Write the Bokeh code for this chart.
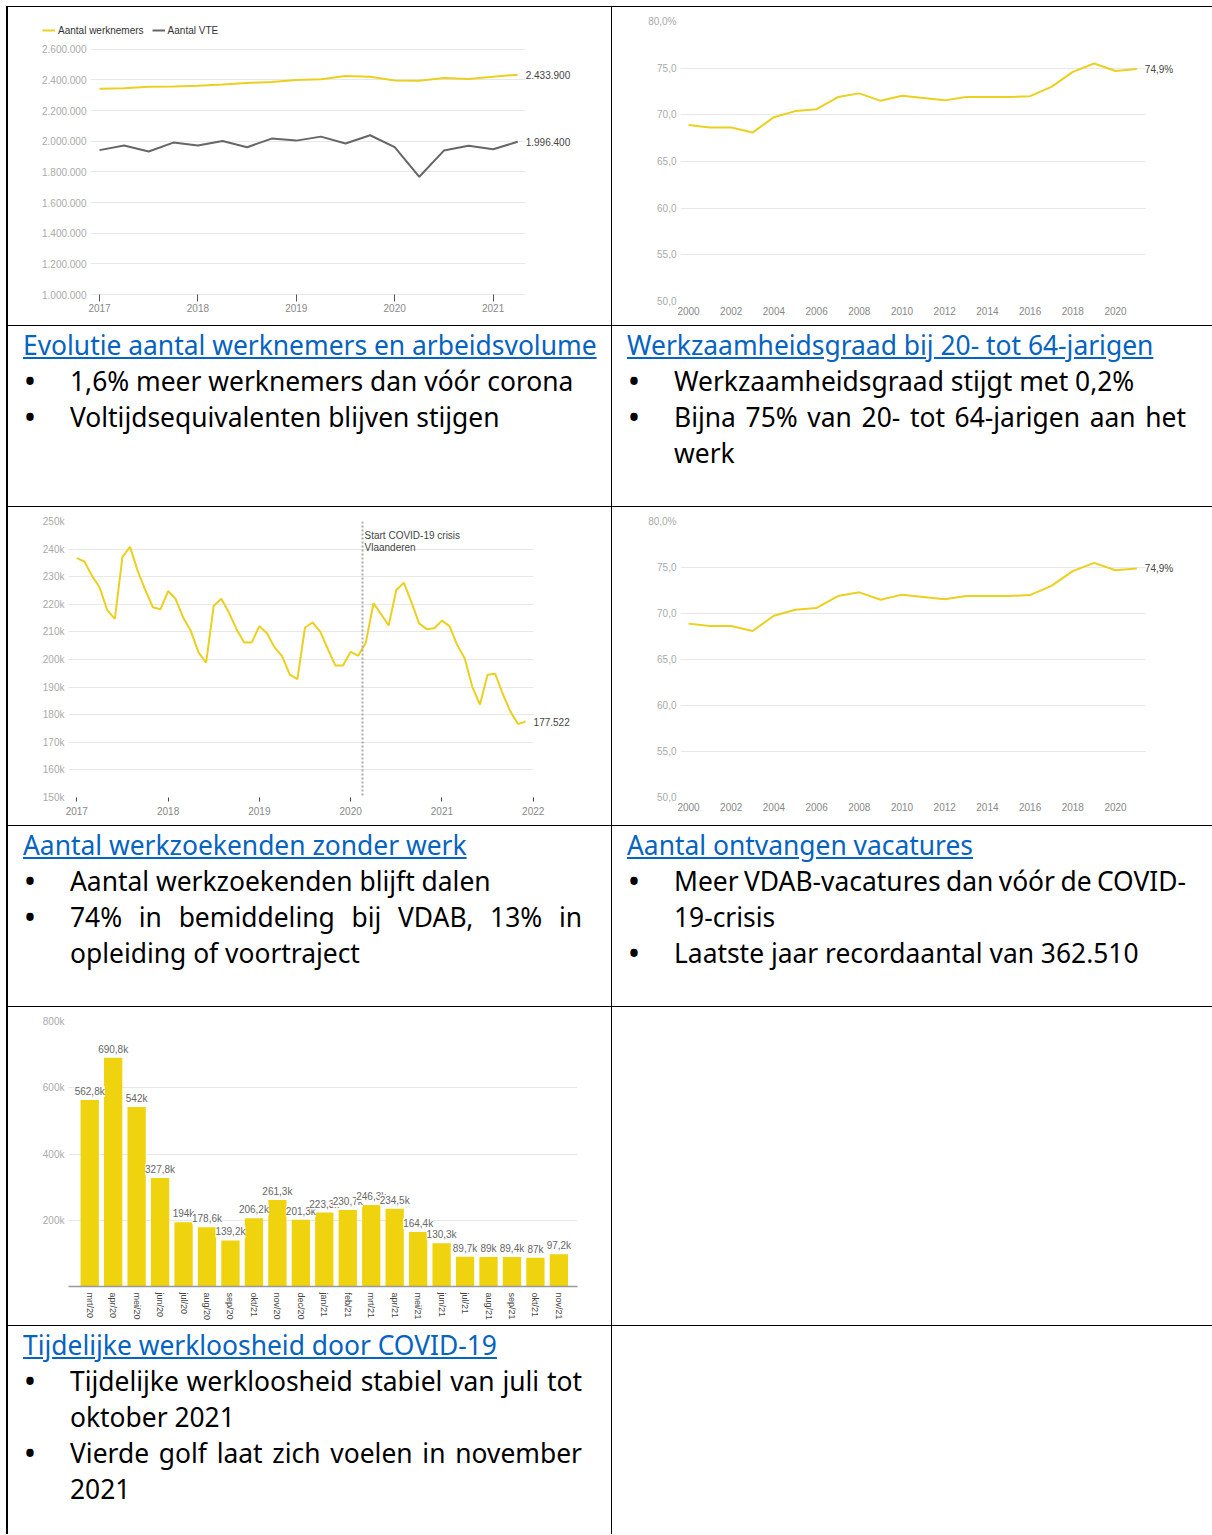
from bokeh.plotting import figure
from bokeh.models import (Range1d, FixedTicker, Label, LabelSet, ColumnDataSource,
                          Span, Legend, LegendItem, Div, Spacer)
from bokeh.layouts import column, row
from bokeh.embed import file_html
from bokeh.resources import INLINE
from bokeh.core.properties import value

# ---------------- data ----------------
# Chart 1: Evolutie aantal werknemers en arbeidsvolume (kwartalen 2017Q1 - 2021Q2)
kwartalen = [2017.0, 2017.25, 2017.5, 2017.75, 2018.0, 2018.25, 2018.5, 2018.75,
             2019.0, 2019.25, 2019.5, 2019.75, 2020.0, 2020.25, 2020.5, 2020.75,
             2021.0, 2021.25]
werknemers = [2342000, 2346000, 2355000, 2357000, 2362000, 2370000, 2380000, 2386000,
              2400000, 2404000, 2426000, 2421000, 2396000, 2395000, 2413000, 2406000,
              2421000, 2433900]
vte = [1942000, 1972000, 1933000, 1991000, 1972000, 2002000, 1961000, 2017000,
       2004000, 2030000, 1985000, 2039000, 1961000, 1768000, 1939000, 1970000,
       1948000, 1996400]
c1_yticks = [1000000, 1200000, 1400000, 1600000, 1800000, 2000000, 2200000, 2400000, 2600000]
c1_ylabels = ["1.000.000", "1.200.000", "1.400.000", "1.600.000", "1.800.000",
              "2.000.000", "2.200.000", "2.400.000", "2.600.000"]
c1_xticks = [2017, 2018, 2019, 2020, 2021]
c1_series = ["Aantal werknemers", "Aantal VTE"]

# Chart 2/4: Werkzaamheidsgraad 20-64 jaar
jaren = [2000, 2001, 2002, 2003, 2004, 2005, 2006, 2007, 2008, 2009, 2010,
         2011, 2012, 2013, 2014, 2015, 2016, 2017, 2018, 2019, 2020, 2021]
werkzaamheid = [68.9, 68.65, 68.65, 68.1, 69.75, 70.4, 70.6, 71.9, 72.3, 71.5, 72.05,
                71.8, 71.55, 71.9, 71.9, 71.9, 72.0, 73.0, 74.6, 75.5, 74.7, 74.9]
c2_yticks = [50, 55, 60, 65, 70, 75, 80]
c2_ylabels = ["50,0", "55,0", "60,0", "65,0", "70,0", "75,0", "80,0%"]
c2_xticks = [2000, 2002, 2004, 2006, 2008, 2010, 2012, 2014, 2016, 2018, 2020]

# Chart 3: Aantal werkzoekenden zonder werk (x1000, maandelijks jan 2017 - dec 2021)
werkzoekenden = [
    236.7, 235.5, 230.3, 226.1, 217.9, 214.7, 237.2, 240.8, 232.1, 225.2, 218.9, 218.2,
    224.8, 221.9, 215.1, 210.3, 202.6, 198.9, 219.5, 222.0, 217.0, 211.0, 206.2, 206.2,
    212.1, 209.5, 204.4, 201.1, 194.5, 192.9, 211.6, 213.4, 210.1, 203.8, 197.8, 197.8,
    202.8, 201.4, 206.2, 220.4, 216.5, 212.3, 225.2, 227.8, 220.7, 213.1, 211.0, 211.3,
    214.1, 212.1, 205.3, 200.4, 190.0, 183.7, 194.5, 194.8, 187.5, 181.2, 176.6, 177.522]
c3_yticks = [150, 160, 170, 180, 190, 200, 210, 220, 230, 240, 250]
c3_ylabels = ["150k", "160k", "170k", "180k", "190k", "200k", "210k", "220k", "230k", "240k", "250k"]
c3_xticks = [2017, 2018, 2019, 2020, 2021, 2022]
covid_start = 2020.13
covid_text = ["Start COVID-19 crisis", "Vlaanderen"]

# Chart 5: Tijdelijke werkloosheid door COVID-19 (x1000)
tw_maanden = ["mrt/20", "apr/20", "mei/20", "jun/20", "jul/20", "aug/20", "sep/20", "okt/21",
              "nov/20", "dec/20", "jan/21", "feb/21", "mrt/21", "apr/21", "mei/21", "jun/21",
              "jul/21", "aug/21", "sep/21", "okt/21", "nov/21"]
tijdelijk = [562.8, 690.8, 542.0, 327.8, 194.0, 178.6, 139.2, 206.2, 261.3, 201.3, 223.3,
             230.7, 246.3, 234.5, 164.4, 130.3, 89.7, 89.0, 89.4, 87.0, 97.2]
c5_yticks = [200, 400, 600, 800]
c5_ylabels = ["200k", "400k", "600k", "800k"]

# Text cells
teksten = [
    ("Evolutie aantal werknemers en arbeidsvolume",
     [[("1,6% meer werknemers dan vóór corona", False)],
      [("Voltijdsequivalenten blijven stijgen", False)]]),
    ("Werkzaamheidsgraad bij 20- tot 64-jarigen",
     [[("Werkzaamheidsgraad stijgt met 0,2%", False)],
      [("Bijna 75% van 20- tot 64-jarigen aan het", True), ("werk", False)]]),
    ("Aantal werkzoekenden zonder werk",
     [[("Aantal werkzoekenden blijft dalen", False)],
      [("74% in bemiddeling bij VDAB, 13% in", True), ("opleiding of voortraject", False)]]),
    ("Aantal ontvangen vacatures",
     [[("Meer VDAB-vacatures dan vóór de COVID-", True), ("19-crisis", False)],
      [("Laatste jaar recordaantal van 362.510", False)]]),
    ("Tijdelijke werkloosheid door COVID-19",
     [[("Tijdelijke werkloosheid stabiel van juli tot", True), ("oktober 2021", False)],
      [("Vierde golf laat zich voelen in november", True), ("2021", False)]]),
]

# ---------------- styling ----------------
YELLOW = "#EBD020"
BAR = "#EFD30E"
GREY_LINE = "#666666"
GRID = "#e8e8e8"
AX_FONT = "Liberation Sans"
W_L, W_R = 603, 600


def nl_int(v):
    return f"{v:,.0f}".replace(",", ".")


def base_fig(w, h, xr, yr, ml, mr, mt, mb, grid_x=None):
    p = figure(width=w, height=h, x_range=xr, y_range=yr, output_backend="svg",
               toolbar_location=None, title=None, min_border_left=ml, min_border_right=mr,
               min_border_top=mt, min_border_bottom=mb)
    p.outline_line_color = None
    p.background_fill_color = "white"
    p.border_fill_color = "white"
    p.xgrid.grid_line_color = None
    p.ygrid.grid_line_color = GRID
    if grid_x is not None:
        try:
            p.ygrid.cross_bounds = grid_x
        except Exception:
            pass
    for ax in (p.xaxis[0], p.yaxis[0]):
        ax.axis_line_color = None
        ax.minor_tick_line_color = None
        ax.major_label_text_font = AX_FONT
        ax.major_label_text_font_size = "10px"
    p.yaxis.major_tick_line_color = None
    p.yaxis.major_tick_out = 0
    p.yaxis.major_label_text_color = "#aaaaaa"
    p.yaxis.major_label_standoff = 4
    p.xaxis.major_label_text_color = "#888888"
    return p


def end_label(p, x, y, text):
    p.add_layout(Label(x=x, y=y, text=text, x_offset=8, text_baseline="middle",
                       text_font=AX_FONT, text_font_size="10px", text_color="#444444"))


# Chart 1  (frame x: 36 -> 600 px, 98.4 px/yr; 6452 per px vertically;
#           y axis fixed at the start of the grid so the legend can sit left of it)
c1_grid0 = 2016.9085
c1_x0 = 2017 - 63 / 98.4
c1 = base_fig(W_L, 318, Range1d(c1_x0, c1_x0 + 564 / 98.4),
              Range1d(1000000 - 7 * 6452, 1000000 + 276 * 6452),
              28, 11, 14, 21, grid_x=(c1_grid0, 2021.329))
c1.yaxis.fixed_location = c1_grid0
c1.yaxis.ticker = FixedTicker(ticks=c1_yticks)
c1.ygrid.ticker = FixedTicker(ticks=c1_yticks)
c1.yaxis.major_label_overrides = dict(zip(c1_yticks, c1_ylabels))
c1.xaxis.ticker = FixedTicker(ticks=c1_xticks)
c1.xaxis.major_tick_line_color = "#555555"
c1.xaxis.major_tick_out = 0
c1.xaxis.major_tick_in = 7
c1.xaxis.major_label_standoff = 2
r_w = c1.line(kwartalen, werknemers, line_color=YELLOW, line_width=2)
r_v = c1.line(kwartalen, vte, line_color=GREY_LINE, line_width=2)
leg = Legend(items=[LegendItem(label=c1_series[0], renderers=[r_w]),
                    LegendItem(label=c1_series[1], renderers=[r_v])],
             orientation="horizontal", location=(6, 265), padding=0, margin=0, spacing=8,
             glyph_width=13, glyph_height=12, label_height=12, label_standoff=3,
             border_line_color=None, background_fill_alpha=0,
             label_text_font=AX_FONT, label_text_font_size="10px", label_text_color="#333333")
c1.add_layout(leg)
end_label(c1, kwartalen[-1], werknemers[-1], nl_int(werknemers[-1]))
end_label(c1, kwartalen[-1], vte[-1], nl_int(vte[-1]))


# Chart 2 / 4  (frame x: 680 -> 1200 px, 21.35 px per year)
def werk_fig(h, mt, mb):
    x0 = 1999.625
    p = base_fig(W_R, h, Range1d(x0, x0 + 520 / 21.35), Range1d(50, 80), 68, 12, mt, mb,
                 grid_x=(x0, 2021.405))
    p.yaxis.ticker = FixedTicker(ticks=c2_yticks)
    p.ygrid.ticker = FixedTicker(ticks=c2_yticks)
    p.yaxis.major_label_overrides = dict(zip(c2_yticks, c2_ylabels))
    p.xaxis.ticker = FixedTicker(ticks=c2_xticks)
    p.xaxis.major_tick_line_color = None
    p.xaxis.major_tick_out = 0
    p.xaxis.major_tick_in = 0
    p.xaxis.major_label_standoff = 5
    p.line(jaren, werkzaamheid, line_color=YELLOW, line_width=2)
    end_label(p, jaren[-1], werkzaamheid[-1], f"{werkzaamheid[-1]:.1f}".replace(".", ",") + "%")
    return p


c2 = werk_fig(318, 13, 24)
c4 = werk_fig(318, 13, 25)

# Chart 3  (frame x: 68 -> 600 px, 91.28 px per year)
c3_x0 = 2016.909
c3 = base_fig(W_L, 318, Range1d(c3_x0, c3_x0 + 532 / 91.28), Range1d(150, 250),
              60, 11, 14, 28, grid_x=(c3_x0, 2022.003))
c3.yaxis.ticker = FixedTicker(ticks=c3_yticks)
c3.ygrid.ticker = FixedTicker(ticks=c3_yticks)
c3.yaxis.major_label_overrides = dict(zip(c3_yticks, c3_ylabels))
c3.xaxis.ticker = FixedTicker(ticks=c3_xticks)
c3.xaxis.major_tick_line_color = "#444444"
c3.xaxis.major_tick_out = 4
c3.xaxis.major_tick_in = 0
c3.xaxis.major_label_standoff = 5
maand_x = [2017 + i / 12 for i in range(len(werkzoekenden))]
c3.line(maand_x, werkzoekenden, line_color=YELLOW, line_width=2)
c3.add_layout(Span(location=covid_start, dimension="height", line_color="#aaaaaa",
                   line_width=2, line_dash="2 2"))
c3.add_layout(Label(x=covid_start, y=250, y_offset=-14, x_offset=2, text=covid_text[0],
                    text_baseline="middle", text_font=AX_FONT, text_font_size="10px",
                    text_color="#444444"))
c3.add_layout(Label(x=covid_start, y=250, y_offset=-26, x_offset=2, text=covid_text[1],
                    text_baseline="middle", text_font=AX_FONT, text_font_size="10px",
                    text_color="#444444"))
end_label(c3, maand_x[-1], werkzoekenden[-1], nl_int(werkzoekenden[-1] * 1000))

# Chart 5
c5 = base_fig(W_L, 318, Range1d(-0.904, 20.793), Range1d(0, 800), 60, 34, 14, 39)
c5.yaxis.ticker = FixedTicker(ticks=c5_yticks)
c5.ygrid.ticker = FixedTicker(ticks=c5_yticks)
c5.yaxis.major_label_overrides = dict(zip(c5_yticks, c5_ylabels))
idx = list(range(len(tijdelijk)))
c5.xaxis.ticker = FixedTicker(ticks=idx)
c5.xaxis.major_label_overrides = dict(zip(idx, tw_maanden))
c5.xaxis.major_label_orientation = "vertical"
c5.xaxis.major_tick_line_color = None
c5.xaxis.major_tick_out = 0
c5.xaxis.major_label_text_font_size = "9px"
c5.xaxis.major_label_text_color = "#444444"
c5.xaxis.major_label_standoff = 6
c5.xaxis.axis_line_color = "#999999"
c5.xaxis.axis_line_width = 1.5


def k_label(v):
    s = f"{v:.1f}".rstrip("0").rstrip(".")
    return s.replace(".", ",") + "k"


src5 = ColumnDataSource(dict(x=idx, top=tijdelijk, lab=[k_label(v) for v in tijdelijk]))
c5.vbar(x="x", top="top", width=0.78, source=src5, fill_color=BAR, line_color=None)
c5.add_layout(LabelSet(x="x", y="top", text="lab", source=src5, y_offset=3,
                       text_align="center", text_baseline="bottom",
                       text_font=value(AX_FONT), text_font_size=value("10px"),
                       text_color=value("#666666"), background_fill_color="white"))


# ---------------- text cells ----------------
def tekst_cel(titel, punten, w, h):
    html = ('<div style="font-family:\'Noto Sans\',sans-serif;font-size:26.4px;line-height:36px;'
            'color:#000;padding:1px 0 0 15px;width:574px;">')
    html += f'<div style="color:#0563C1;text-decoration:underline;white-space:nowrap;">{titel}</div>'
    for regels in punten:
        html += '<div style="position:relative;padding-left:47px;">'
        html += ('<span style="position:absolute;left:2px;top:0;font-size:26.4px;'
                 'font-weight:700;line-height:36px;">&#8226;</span>')
        for t, j in regels:
            if j:
                st = ("white-space:nowrap;text-align:justify;text-align-last:justify;"
                      "word-spacing:-3px;")
            else:
                st = "white-space:nowrap;"
            html += f'<div style="{st}">{t}</div>'
        html += '</div>'
    html += '</div>'
    return Div(text=html, width=w, height=h, margin=0, styles={"overflow": "hidden"})


t1 = tekst_cel(*teksten[0], W_L, 180)
t2 = tekst_cel(*teksten[1], W_R, 180)
t3 = tekst_cel(*teksten[2], W_L, 180)
t4 = tekst_cel(*teksten[3], W_R, 180)
t5 = tekst_cel(*teksten[4], W_L, 208)
LEFT_PAD = 6
LEFT_LINE = 2
TOTAL_W = LEFT_LINE + W_L + 1 + W_R


def hlijn():
    return row(Spacer(width=LEFT_PAD, height=1),
               Spacer(width=TOTAL_W, height=1, styles={"background-color": "#000"}))


def cel_rij(h, a, b):
    return row(Spacer(width=LEFT_PAD, height=h),
               Spacer(width=LEFT_LINE, height=h, styles={"background-color": "#000"}),
               a,
               Spacer(width=1, height=h, styles={"background-color": "#000"}),
               b)


page = column(
    Spacer(width=10, height=6),
    hlijn(),
    cel_rij(318, c1, c2),
    hlijn(),
    cel_rij(180, t1, t2),
    hlijn(),
    cel_rij(318, c3, c4),
    hlijn(),
    cel_rij(180, t3, t4),
    hlijn(),
    cel_rij(318, c5, Spacer(width=W_R, height=318)),
    hlijn(),
    cel_rij(208, t5, Spacer(width=W_R, height=208)),
)

open("out.html", "w", encoding="utf-8").write(file_html(page, INLINE))
